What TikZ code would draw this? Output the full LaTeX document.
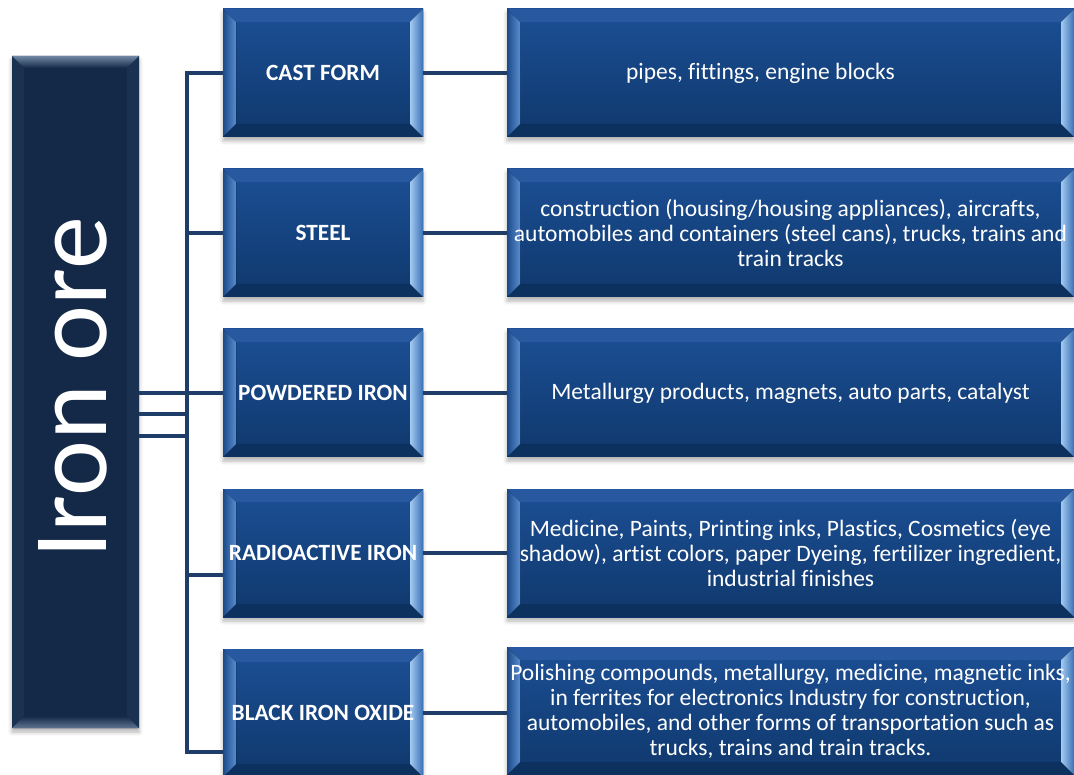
\documentclass[tikz,border=0pt]{standalone}
\usepackage{fontspec}
\setmainfont{Carlito}[Ligatures=NoCommon]
\usetikzlibrary{shadows.blur,calc}

\definecolor{faceTop}{HTML}{1C4F95}
\definecolor{faceBot}{HTML}{0F386C}
\definecolor{bevTop}{HTML}{2859A0}
\definecolor{bevBot}{HTML}{0D315F}
\definecolor{bevLin}{HTML}{5A8DCE}
\definecolor{bevLout}{HTML}{1B4A8A}
\definecolor{bevRin}{HTML}{A3CBF2}
\definecolor{bevRout}{HTML}{3A70B4}
\definecolor{oreFace}{HTML}{142847}
\definecolor{oreBevHi}{HTML}{6F87A3}
\definecolor{oreSide}{HTML}{1B3152}
\definecolor{linkCol}{HTML}{1F3D69}

\tikzset{
  x=1pt, y=-1pt,
  bluebevel/.style={
    rectangle, inner sep=0pt, draw=none, text=white, align=center,
    top color=faceTop, bottom color=faceBot,
    blur shadow={shadow xshift=0pt, shadow yshift=-4pt,
                 shadow blur radius=4pt, shadow opacity=30},
    path picture={
      \def\bv{13pt}
      \coordinate (nw) at (path picture bounding box.north west);
      \coordinate (ne) at (path picture bounding box.north east);
      \coordinate (sw) at (path picture bounding box.south west);
      \coordinate (se) at (path picture bounding box.south east);
      % top and bottom bevels
      \fill[bevTop] (nw) -- (ne) -- ([xshift=-\bv,yshift=-\bv]ne)
        -- ([xshift=\bv,yshift=-\bv]nw) -- cycle;
      \fill[bevBot] (sw) -- (se) -- ([xshift=-\bv,yshift=\bv]se)
        -- ([xshift=\bv,yshift=\bv]sw) -- cycle;
      % side bevels
      \fill[left color=bevLout, right color=bevLin]
        (nw) -- ([xshift=\bv,yshift=-\bv]nw) -- ([xshift=\bv,yshift=\bv]sw)
        -- (sw) -- cycle;
      \fill[left color=bevRin, right color=bevRout]
        (ne) -- ([xshift=-\bv,yshift=-\bv]ne) -- ([xshift=-\bv,yshift=\bv]se)
        -- (se) -- cycle;
    }
  },
  formbox/.style={bluebevel, minimum width=200pt, minimum height=128pt,
    font=\fontsize{23.3}{26}\selectfont\bfseries},
  usebox/.style={bluebevel, minimum width=567pt, minimum height=128pt,
    font=\fontsize{23.5}{25}\selectfont},
  orebox/.style={
    rectangle, inner sep=0pt, draw=none, fill=oreFace,
    minimum width=127pt, minimum height=672pt,
    blur shadow={shadow xshift=0pt, shadow yshift=-4pt,
                 shadow blur radius=4pt, shadow opacity=30},
    path picture={
      \def\bv{12pt}
      \coordinate (nw) at (path picture bounding box.north west);
      \coordinate (ne) at (path picture bounding box.north east);
      \coordinate (sw) at (path picture bounding box.south west);
      \coordinate (se) at (path picture bounding box.south east);
      \fill[oreSide] (nw) -- ([xshift=\bv,yshift=-\bv]nw)
        -- ([xshift=\bv,yshift=\bv]sw) -- (sw) -- cycle;
      \fill[oreSide] (ne) -- ([xshift=-\bv,yshift=-\bv]ne)
        -- ([xshift=-\bv,yshift=\bv]se) -- (se) -- cycle;
      \fill[top color=oreBevHi, bottom color=oreFace]
        (nw) -- (ne) -- ([xshift=-\bv,yshift=-\bv]ne)
        -- ([xshift=\bv,yshift=-\bv]nw) -- cycle;
      \fill[top color=oreFace, bottom color=oreBevHi!80!oreFace]
        (sw) -- (se) -- ([xshift=-\bv,yshift=\bv]se)
        -- ([xshift=\bv,yshift=\bv]sw) -- cycle;
    }
  },
  link/.style={draw=linkCol, line width=4.5pt, line join=miter}
}

\begin{document}
\begin{tikzpicture}
\useasboundingbox (0,0) rectangle (1074,775);

% source block
\node[orebox] (ore) at (75.5,392) {};
\node[text=white, rotate=90, anchor=base, font=\fontsize{106}{110}\selectfont]
  (oretxt) at (106,388) {Iron ore};

% forms of iron
\node[formbox] (cast)  at (323,73)  {CAST FORM};
\node[formbox] (steel) at (323,233) {STEEL};
\node[formbox] (pow)   at (323,393) {POWDERED IRON};
\node[formbox] (radio) at (323,553) {RADIOACTIVE IRON};
\node[formbox] (black) at (323,713) {BLACK IRON OXIDE};

% applications
\node[usebox] (castU)  at (790.5,73)
  {pipes, fittings, engine blocks\hspace*{60pt}};
\node[usebox] (steelU) at (790.5,233)
  {construction (housing/housing appliances), aircrafts,\\
   automobiles and containers (steel cans), trucks, trains and\\
   train tracks};
\node[usebox] (powU)   at (790.5,393)
  {Metallurgy products, magnets, auto parts, catalyst};
\node[usebox] (radioU) at (790.5,553)
  {Medicine, Paints, Printing inks, Plastics, Cosmetics (eye\\
   shadow), artist colors, paper Dyeing, fertilizer ingredient,\\
   industrial finishes};
\node[usebox] (blackU) at (790.5,711)
  {Polishing compounds, metallurgy, medicine, magnetic inks,\\
   in ferrites for electronics Industry for construction,\\
   automobiles, and other forms of transportation such as\\
   trucks, trains and train tracks.};

% branching tree
\coordinate (tTop) at (187,73);
\coordinate (tBot) at (187,752);
\coordinate (jA) at (187,414);
\coordinate (jB) at (187,436);
\coordinate (jR) at (187,575);

\draw[link] (cast.west) -- (tTop) -- (tBot) -- (tBot -| black.west);
\draw[link] (steel.west -| tTop) -- (steel.west);
\draw[link] (ore.east |- pow.west) -- (pow.west);
\draw[link] (ore.east |- jA) -- (jA);
\draw[link] (ore.east |- jB) -- (jB);
\draw[link] (jR) -- (jR -| radio.west);

% form to application
\draw[link] (cast.east)  -- (castU.west);
\draw[link] (steel.east) -- (steelU.west);
\draw[link] (pow.east)   -- (powU.west);
\draw[link] (radio.east) -- (radioU.west);
\draw[link] (black.east) -- (black.east -| blackU.west);
\end{tikzpicture}
\end{document}
